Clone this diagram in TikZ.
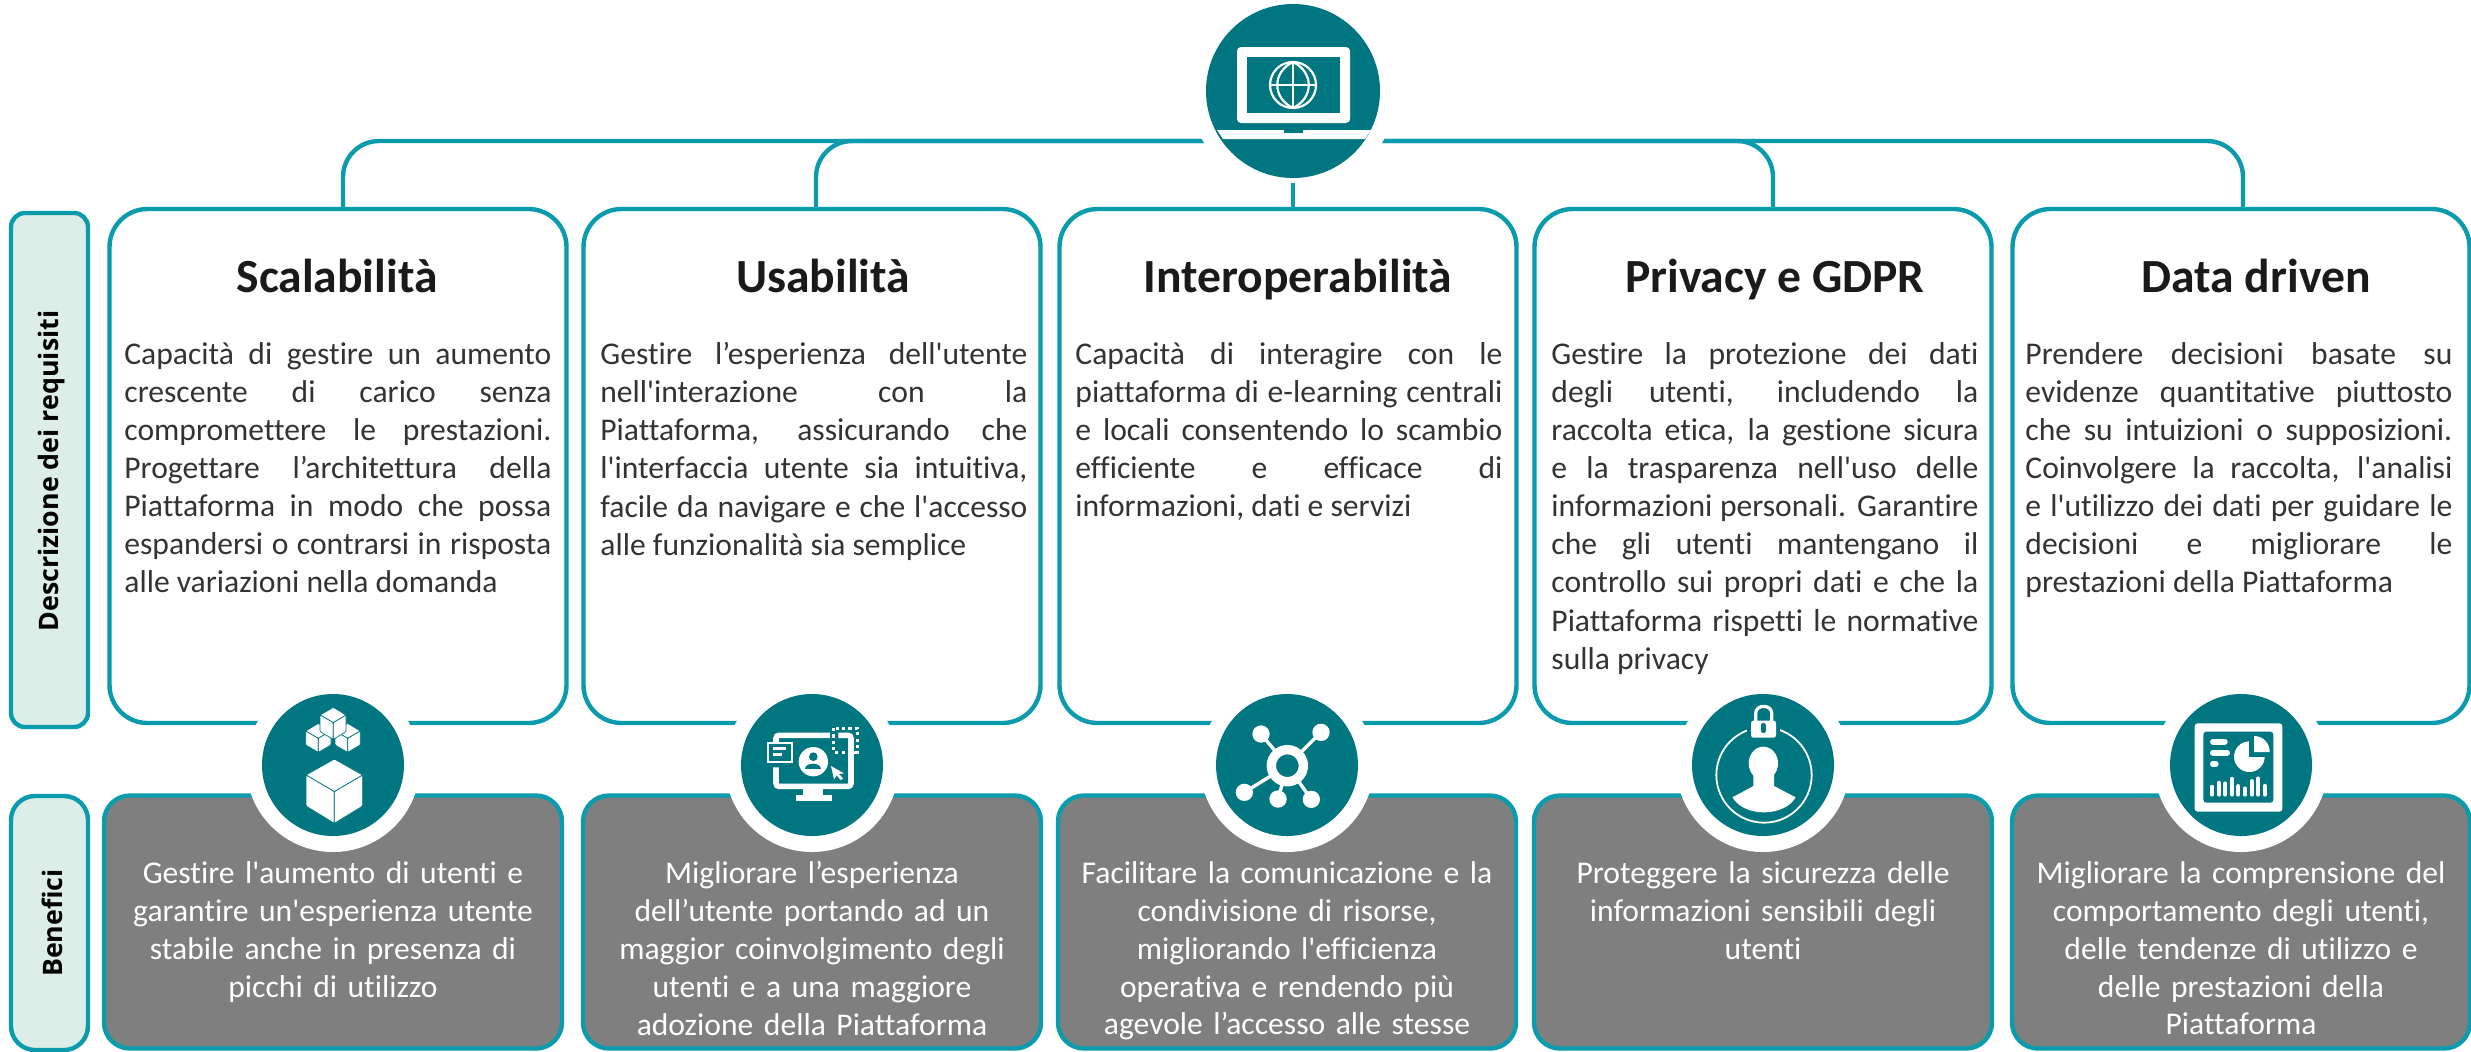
\documentclass[tikz,border=0pt]{standalone}
\usepackage{fontspec}
\setmainfont{Carlito}[Ligatures={TeXOff,NoCommon}]
\newfontfamily\sidefont{Open Sans}
\definecolor{linec}{HTML}{0A9BAD}
\definecolor{iconc}{HTML}{007680}
\definecolor{sidec}{HTML}{DDEEE8}
\definecolor{grayc}{HTML}{7F7F7F}
\definecolor{bodyc}{HTML}{333333}
\definecolor{titlec}{HTML}{1A1A1A}
\tikzset{
 edgeline/.style={draw=linec,line width=2.2pt},
 card/.style={edgeline,fill=white,rounded corners=19pt,minimum width=228.5pt,minimum height=257pt,inner sep=0pt,outer sep=0pt},
 benefit/.style={edgeline,fill=grayc,rounded corners=13pt,minimum width=229pt,minimum height=126.5pt,inner sep=0pt,outer sep=0pt},
 sidebox/.style={edgeline,fill=sidec,minimum width=38.5pt,inner sep=0pt,outer sep=0pt},
 sidelabel/.style={rotate=90,font=\sidefont\bfseries\fontsize{13.4}{16}\selectfont,text=black,inner sep=0pt},
 titlelabel/.style={anchor=base,font=\bfseries\fontsize{23.8}{28}\selectfont,text=titlec,inner sep=0pt},
 bodytext/.style={anchor=north west,text width=213.5pt,align=justify,text=bodyc,inner sep=0pt,font=\fontsize{15.8}{19.05}\selectfont},
 bentext/.style={anchor=north,text width=215pt,align=center,text=white,inner sep=0pt,font=\fontsize{15.8}{18.95}\selectfont},
 halo/.style={circle,fill=white,minimum size=87pt,inner sep=0pt,outer sep=0pt},
 iconcirc/.style={circle,fill=iconc,minimum size=71pt,inner sep=0pt,outer sep=0pt},
 wl/.style={draw=white},
 cubef/.style={fill=white,draw=iconc,line width=.35pt,rounded corners=.5pt},
 zoomed/.style={x=.16667pt,y=-.16667pt},
}
\newcommand{\jb}{\linebreak}
\begin{document}
\begin{tikzpicture}[x=.5pt,y=-.5pt]
\useasboundingbox (0,0) rectangle (2471,1051);
\fill[white] (0,0) rectangle (2471,1051);
% side boxes
\node[sidebox,rounded corners=7pt,minimum height=257pt] (sideA) at (49.5,470) {};
\node[sidebox,rounded corners=12pt,minimum height=127pt] (sideB) at (49.5,923) {};
\node[sidelabel] (sideAt) at (52,471) {Descrizione dei requisiti};
\node[sidelabel] (sideBt) at (52,923) {Benefici};
% cards
\node[card] (c1) at (338,466) {};
\node[card] (c2) at (812,466) {};
\node[card] (c3) at (1288,466) {};
\node[card] (c4) at (1763,466) {};
\node[card] (c5) at (2241,466) {};
% benefits
\node[benefit] (b1) at (333,922) {};
\node[benefit] (b2) at (812,922) {};
\node[benefit] (b3) at (1287,922) {};
\node[benefit] (b4) at (1763,922) {};
\node[benefit] (b5) at (2241,922) {};
% connectors
\coordinate (jA) at (343,209);
\coordinate (jB) at (816,209);
\coordinate (jD) at (1773,209);
\coordinate (jE) at (2243,209);
\coordinate (bus) at (1293,141);
\coordinate (stemEnd) at (1293,209);
\draw[edgeline,rounded corners=18pt] (jA) |- (bus);
\draw[edgeline,rounded corners=18pt] (jB) |- (bus);
\draw[edgeline,rounded corners=18pt] (jD) |- (bus);
\draw[edgeline,rounded corners=18pt] (jE) |- (bus);
% hub
\node[halo,minimum size=103pt] (hubhalo) at (1293,91) {};
\coordinate (stemStart) at (1293,183);
\draw[edgeline] (stemStart) -- (stemEnd);
\node[iconcirc,minimum size=87pt] (hub) at (1293,91) {};
% laptop
\fill[white,rounded corners=2pt] (1237,47) rectangle (1350,123);
\fill[iconc] (1247,57) rectangle (1340,113);
\fill[white] (1217,130) -- (1371,130) -- (1365,139) -- (1223,139) -- cycle;
\fill[iconc] (1284,130) rectangle (1303,133);
\begin{scope}[white,line width=1.1pt]
\draw (1293,85) circle (23);
\draw (1270,85) -- (1316,85);
\draw (1293,62) -- (1293,108);
\draw (1293,62) .. controls (1272,72) and (1272,98) .. (1293,108);
\draw (1293,62) .. controls (1314,72) and (1314,98) .. (1293,108);
\end{scope}
% lower halos and icons
\node[halo] (h1) at (333,765) {};
\node[halo] (h2) at (812,765) {};
\node[halo] (h3) at (1287,765) {};
\node[halo] (h4) at (1763,765) {};
\node[halo] (h5) at (2241,765) {};
\node[iconcirc] (i1) at (333,765) {};
\node[iconcirc] (i2) at (812,765) {};
\node[iconcirc] (i3) at (1287,765) {};
\node[iconcirc] (i4) at (1763,765) {};
\node[iconcirc] (i5) at (2241,765) {};
% cubes
\begin{scope}[shift={(220,680)},zoomed]
\foreach \dx in {0,88}{
\begin{scope}[xshift=\dx*.16667pt]
\filldraw[cubef] (257,153)--(295,130)--(333,153)--(295,175)--cycle;
\filldraw[cubef] (257,153)--(295,175)--(295,217)--(257,195)--cycle;
\filldraw[cubef] (295,175)--(333,153)--(333,195)--(295,217)--cycle;
\end{scope}}
\filldraw[cubef] (340,82)--(378,105)--(340,128)--(300,105)--cycle;
\filldraw[cubef] (300,105)--(340,128)--(340,178)--(300,155)--cycle;
\filldraw[cubef] (340,128)--(378,105)--(378,155)--(340,178)--cycle;
\filldraw[cubef] (343,237)--(428,285)--(343,335)--(258,285)--cycle;
\filldraw[cubef] (258,285)--(343,335)--(343,430)--(258,378)--cycle;
\filldraw[cubef] (343,335)--(428,285)--(428,378)--(343,430)--cycle;
\end{scope}
% monitor
\begin{scope}[shift={(690,680)},zoomed]
\draw[wl,line width=2.8pt,rounded corners=1.5pt] (258,187)--(258,166)--(420,166);
\draw[wl,line width=2.8pt,rounded corners=1.5pt] (445,166)--(483,166)--(483,319)--(258,319)--(258,262);
\fill[white] (340,327) rectangle (400,345);
\fill[white] (317,345) rectangle (425,363);
\draw[wl,line width=1.1pt,fill=iconc] (233,190) rectangle (307,245);
\draw[wl,line width=1.7pt] (248,205)--(288,205);
\draw[wl,line width=1.7pt] (248,224)--(275,224);
\fill[white] (370,245) circle (44);
\fill[iconc] (370,230) circle (13);
\fill[iconc] (346,268) .. controls (346,245) and (394,245) .. (394,268) -- cycle;
\fill[white] (423,258)--(462,280)--(447,282)--(460,296)--(452,300)--(440,286)--(432,298)--cycle;
\draw[wl,line width=1.5pt,dash pattern=on 1.6pt off 1.6pt] (431,144) rectangle (501,216);
\end{scope}
% network
\begin{scope}[shift={(1170,680)},zoomed]
\foreach \px/\py in {273/162,453/157,223/337,324/357,424/358}{
\draw[wl,line width=1.7pt] (352,257) -- (\px,\py);
\fill[white] (\px,\py) circle (26);
}
\draw[wl,line width=4.7pt,fill=iconc] (352,257) circle (48);
\end{scope}
% privacy
\begin{scope}[shift={(1640,680)},zoomed]
\draw[wl,line width=.9pt] (372,285) circle (143);
\fill[iconc] (322,125) rectangle (420,182);
\fill[white,rounded corners=1.2pt] (333,122) rectangle (408,173);
\draw[wl,line width=1.6pt] (347,125)--(347,100) .. controls (347,72) and (395,72) .. (395,100) -- (395,125);
\draw[iconc,line width=2.4pt,line cap=round] (370,136)--(370,152);
\fill[white] (370,250) ellipse [x radius=44,y radius=50];
\fill[white] (340,280) -- (340,318) -- (277,352) .. controls (312,412) and (432,412) .. (467,352) -- (402,318) -- (402,280) -- cycle;
\end{scope}
% dashboard
\begin{scope}[shift={(2120,680)},zoomed]
\fill[white,rounded corners=1.5pt] (224,130) rectangle (487,395);
\fill[iconc,rounded corners=1.5pt] (250,155) rectangle (460,368);
\draw[wl,line width=3pt,line cap=round] (279,185)--(314,185);
\draw[wl,line width=3pt,line cap=round] (279,218)--(321,218);
\draw[wl,line width=3pt,line cap=round] (279,252)--(287,252);
\fill[white] (388,230) circle (46);
\fill[iconc] (388,178) rectangle (442,230);
\fill[white] (402,216) -- (402,168) .. controls (430,168) and (449,190) .. (449,216) -- cycle;
\foreach \bx/\by in {275/320,296/308,316/310,336/296,355/318,375/325,395/303,415/295,434/317}{
\draw[wl,line width=1.9pt,line cap=round] (\bx,\by)--(\bx,344);
}
\end{scope}
% titles
\node[titlelabel] (t1) at (337,292) {Scalabilità};
\node[titlelabel] (t2) at (823,292) {Usabilità};
\node[titlelabel] (t3) at (1298,292) {Interoperabilità};
\node[titlelabel] (t4) at (1775,292) {Privacy e GDPR};
\node[titlelabel] (t5) at (2256,292) {Data driven};
% body
\node[bodytext] (d1) at (124,342) {Capacità di gestire un aumento\jb crescente di carico senza\jb compromettere le prestazioni.\jb Progettare l’architettura della\jb Piattaforma in modo che possa\jb espandersi o contrarsi in risposta\jb alle variazioni nella domanda};
\node[bodytext] (d2) at (600,342) {Gestire l’esperienza dell'utente\jb nell'interazione con la\jb Piattaforma, assicurando che\jb l'interfaccia utente sia intuitiva,\jb facile da navigare e che l'accesso\jb alle funzionalità sia semplice};
\node[bodytext] (d3) at (1075,342) {Capacità di interagire con le\jb piattaforma di e-learning centrali\jb e locali consentendo lo scambio\jb efficiente e efficace di\jb informazioni, dati e servizi};
\node[bodytext] (d4) at (1551,342) {Gestire la protezione dei dati\jb degli utenti, includendo la\jb raccolta etica, la gestione sicura\jb e la trasparenza nell'uso delle\jb informazioni personali. Garantire\jb che gli utenti mantengano il\jb controllo sui propri dati e che la\jb Piattaforma rispetti le normative\jb sulla privacy};
\node[bodytext] (d5) at (2025,342) {Prendere decisioni basate su\jb evidenze quantitative piuttosto\jb che su intuizioni o supposizioni.\jb Coinvolgere la raccolta, l'analisi\jb e l'utilizzo dei dati per guidare le\jb decisioni e migliorare le\jb prestazioni della Piattaforma};
% benefits text
\node[bentext] (e1) at (333,861) {Gestire l'aumento di utenti e\\garantire un'esperienza utente\\stabile anche in presenza di\\picchi di utilizzo};
\node[bentext] (e2) at (812,861) {Migliorare l’esperienza\\dell’utente portando ad un\\maggior coinvolgimento degli\\utenti e a una maggiore\\adozione della Piattaforma};
\node[bentext] (e3) at (1287,861) {Facilitare la comunicazione e la\\condivisione di risorse,\\migliorando l'efficienza\\operativa e rendendo più\\agevole l’accesso alle stesse};
\node[bentext] (e4) at (1763,861) {Proteggere la sicurezza delle\\informazioni sensibili degli\\utenti};
\node[bentext] (e5) at (2241,861) {Migliorare la comprensione del\\comportamento degli utenti,\\delle tendenze di utilizzo e\\delle prestazioni della\\Piattaforma};
\end{tikzpicture}
\end{document}
